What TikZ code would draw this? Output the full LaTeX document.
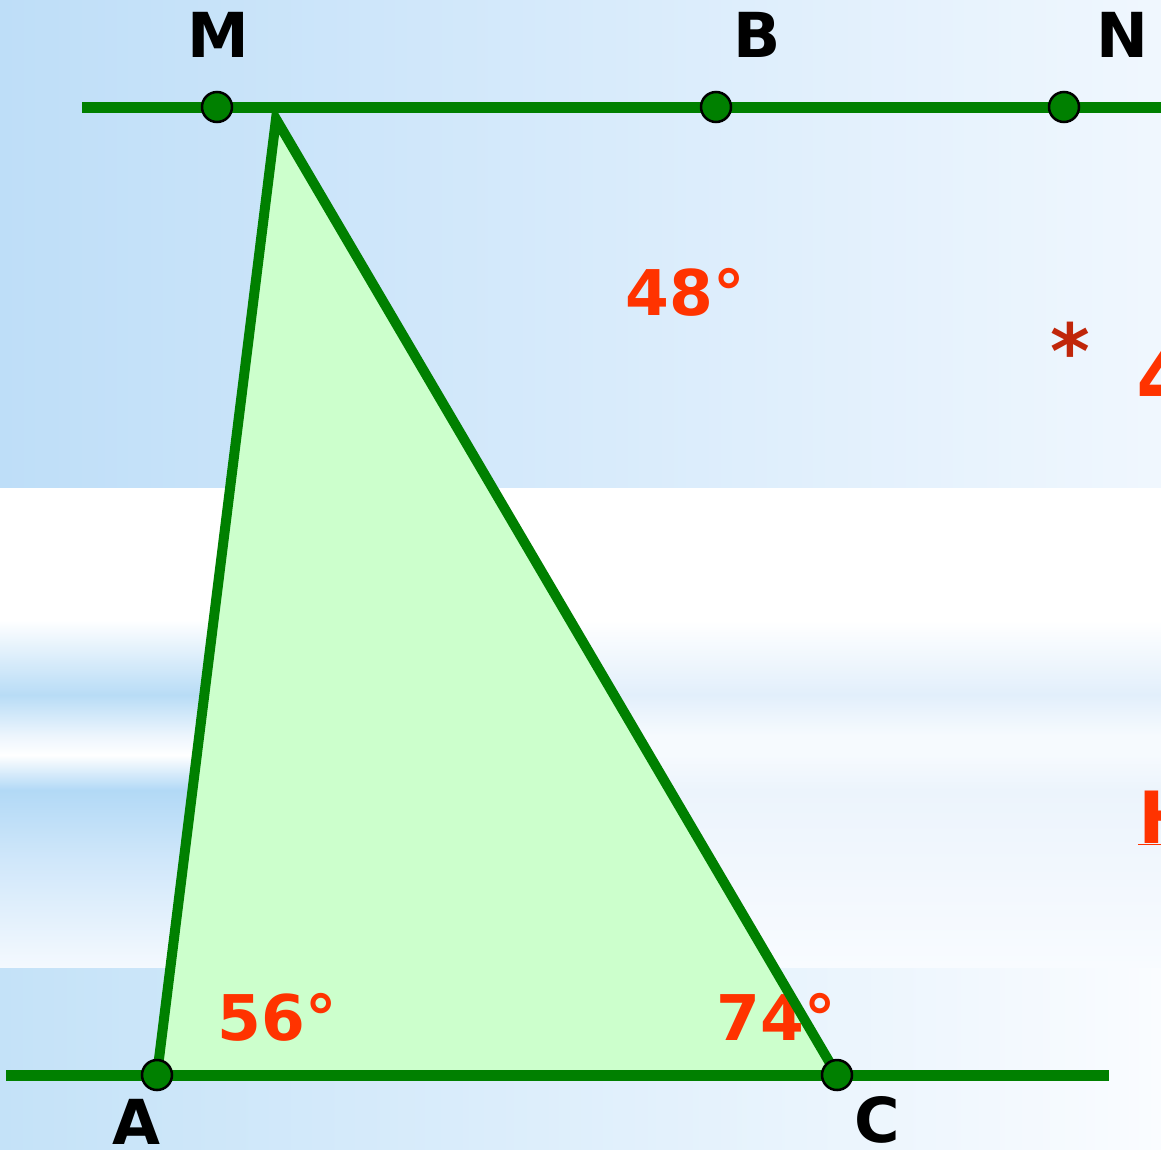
\documentclass[tikz,border=0pt]{standalone}
\usepackage{fontspec}
\setmainfont{DejaVu Sans}
\definecolor{ggreen}{RGB}{0,128,0}
\definecolor{tfill}{RGB}{204,255,204}
\definecolor{angred}{RGB}{255,51,0}
\definecolor{astred}{RGB}{192,38,10}
\definecolor{wh}{RGB}{255,255,255}
\definecolor{sa}{RGB}{184,220,246}
\definecolor{sb}{RGB}{236,245,253}
\definecolor{sc}{RGB}{178,217,246}
\definecolor{sd}{RGB}{208,231,250}
\definecolor{se}{RGB}{244,249,254}
\definecolor{fa}{RGB}{226,239,251}
\definecolor{fb}{RGB}{246,250,254}
\definecolor{fc}{RGB}{236,244,252}
\definecolor{fd}{RGB}{248,251,255}
\pgfdeclareverticalshading{leftstreak}{100bp}{color(0bp)=(se); color(25bp)=(se); color(36.25bp)=(sd); color(43.54bp)=(sc); color(47.19bp)=(wh); color(49.27bp)=(sb); color(53.44bp)=(sa); color(61.25bp)=(wh); color(75bp)=(wh); color(100bp)=(wh)}
\pgfdeclareverticalshading{faintstreak}{100bp}{color(0bp)=(fd); color(25bp)=(fd); color(43.54bp)=(fc); color(47.19bp)=(fb); color(49.27bp)=(fb); color(53.44bp)=(fa); color(61.25bp)=(wh); color(75bp)=(wh); color(100bp)=(wh)}
\tikzset{
  gline/.style={draw=ggreen, line width=11pt},
  tedge/.style={draw=ggreen, line width=10pt, line join=miter},
  gpoint/.style={circle, fill=ggreen, draw=black, line width=2.5pt, minimum size=30pt, inner sep=0pt},
  ptlabel/.style={anchor=base, inner sep=0pt, text=black, font=\fontsize{62}{62}\selectfont\bfseries},
  anglabel/.style={anchor=base, inner sep=0pt, text=angred, font=\fontsize{63}{63}\selectfont\bfseries},
}
\begin{document}
\begin{tikzpicture}[x=1pt,y=-1pt]
\useasboundingbox (0,0) rectangle (1161,1149);
\clip (0,0) rectangle (1161,1149);
% background bands
\shade[left color={rgb,255:red,190;green,222;blue,248}, middle color={rgb,255:red,218;green,237;blue,252}, right color={rgb,255:red,240;green,247;blue,254}] (0,0) rectangle (1161,488);
\shade[shading=faintstreak] (0,488) rectangle (1161,968);
\shade[shading=leftstreak] (0,488) rectangle (250,968);
\shade[left color={rgb,255:red,196;green,226;blue,248}, middle color={rgb,255:red,236;green,245;blue,253}, right color={rgb,255:red,250;green,252;blue,255}] (0,968) rectangle (1161,1149);
% coordinates
\coordinate (P) at (276,119);
\coordinate (T1) at (82,107);
\coordinate (T2) at (1161,107);
\coordinate (L1) at (6,1075);
\coordinate (L2) at (1109,1075);
\coordinate (Ap) at (157,1075);
\coordinate (Cp) at (837,1075);
% triangle fill
\fill[tfill] (P) -- (Ap) -- (Cp) -- cycle;
% angle labels
\node[anglabel] (a48) at (685,315) {48°};
\node[anglabel] (a56) at (277,1040) {56°};
\node[anglabel] (a74) at (776,1040) {74°};
% triangle edges, then lines over them
\draw[tedge] (P) -- (Ap) -- (Cp) -- cycle;
\draw[gline] (T1) -- (T2);
\draw[gline] (L1) -- (L2);
% points
\node[gpoint] (M) at (217,107) {};
\node[gpoint] (B) at (716,107) {};
\node[gpoint] (N) at (1064,107) {};
\node[gpoint] (A) at (157,1075) {};
\node[gpoint] (C) at (837,1075) {};
% point labels
\node[ptlabel] (lM) at (218,57) {M};
\node[ptlabel] (lB) at (757,57) {B};
\node[ptlabel] (lN) at (1122,57) {N};
\node[ptlabel] (lA) at (136,1144) {A};
\node[ptlabel] (lC) at (877,1142) {C};
% right side partial texts
\node[anchor=base, inner sep=0pt, text=astred, font=\fontsize{76}{76}\selectfont\bfseries] (ast) at (1070,378) {*};
\node[anchor=base west, inner sep=0pt, text=angred, font=\fontsize{83}{83}\selectfont\bfseries] (four) at (1136,407) {4};
\node[anchor=base west, inner sep=0pt, text=angred, font=\fontsize{72}{72}\selectfont\bfseries] (hh) at (1138,843) {\underline{H}};
\end{tikzpicture}
\end{document}
